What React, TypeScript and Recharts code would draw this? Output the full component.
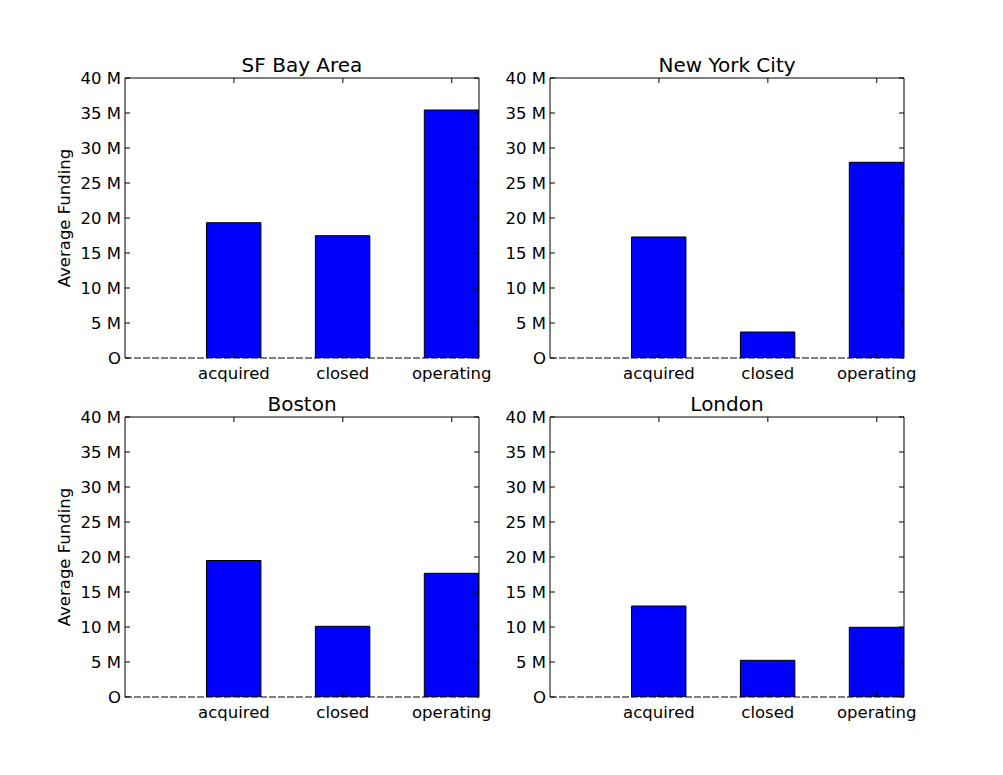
import React from 'react';
import { BarChart, Bar, XAxis, YAxis } from 'recharts';

const statusLabels = ['acquired', 'closed', 'operating'];
const statusPositions = [0, 1, 2];
const yTicks = [0, 5e6, 10e6, 15e6, 20e6, 25e6, 30e6, 35e6, 40e6];

const sfBayArea = [19.33e6, 17.47e6, 35.43e6];
const newYorkCity = [17.29e6, 3.71e6, 27.96e6];
const boston = [19.5e6, 10.1e6, 17.67e6];
const london = [13.0e6, 5.24e6, 9.96e6];

const FONT = '"DejaVu Sans", sans-serif';
const TICK_FS = 16.5;
const TITLE_FS = 20;

const PLOT_W = 354;
const PLOT_H = 280;
const Y_AXIS_W = 60;
const TOP_AXIS_H = 10;
const RIGHT_AXIS_W = 10;
const BOTTOM_AXIS_H = 40;
const X_DOMAIN: [number, number] = [-1, 2.25];
const BAR_WIDTH_UNITS = 0.5;

const panels = [
  { title: 'SF Bay Area', values: sfBayArea, L: 125, T: 78, yLabel: true },
  { title: 'New York City', values: newYorkCity, L: 550, T: 78, yLabel: false },
  { title: 'Boston', values: boston, L: 125, T: 417, yLabel: true },
  { title: 'London', values: london, L: 550, T: 417, yLabel: false },
];

const fmtY = (v: number) => (v === 0 ? 'O' : `${v / 1e6} M`);
const fmtX = (v: number) => statusLabels[statusPositions.indexOf(v)] ?? '';

function Panel({ title, values, L, T, yLabel }: { title: string; values: number[]; L: number; T: number; yLabel: boolean }) {
  const data = statusPositions.map((x, i) => ({ x, value: values[i] }));
  const barSize = (BAR_WIDTH_UNITS * PLOT_W) / (X_DOMAIN[1] - X_DOMAIN[0]);
  const tickStyle = { fill: '#000', fontSize: TICK_FS, fontFamily: FONT };
  const lineStyle = { stroke: '#000', strokeWidth: 1 };
  return (
    <>
      <div
        style={{
          position: 'absolute',
          left: L,
          top: T - 23.4,
          width: PLOT_W,
          textAlign: 'center',
          fontFamily: FONT,
          fontSize: TITLE_FS,
          lineHeight: `${TITLE_FS}px`,
          color: '#000',
          whiteSpace: 'nowrap',
        }}
      >
        {title}
      </div>
      {yLabel && (
        <div
          style={{
            position: 'absolute',
            left: 64.5 - 100,
            top: T + PLOT_H / 2 - 10,
            width: 200,
            height: 20,
            lineHeight: '20px',
            textAlign: 'center',
            fontFamily: FONT,
            fontSize: TICK_FS,
            color: '#000',
            transform: 'rotate(-90deg)',
            whiteSpace: 'nowrap',
          }}
        >
          Average Funding
        </div>
      )}
      <div style={{ position: 'absolute', left: L - Y_AXIS_W, top: T - TOP_AXIS_H }}>
        <BarChart
          width={PLOT_W + Y_AXIS_W + RIGHT_AXIS_W + 20}
          height={PLOT_H + TOP_AXIS_H + BOTTOM_AXIS_H}
          data={data}
          margin={{ top: 0, left: 0, right: 20, bottom: 0 }}
        >
          <XAxis
            xAxisId="bottom"
            dataKey="x"
            type="number"
            domain={X_DOMAIN}
            allowDataOverflow
            ticks={statusPositions}
            tickFormatter={fmtX}
            height={BOTTOM_AXIS_H}
            tickSize={-5}
            tickMargin={14}
            tick={tickStyle}
            tickLine={lineStyle}
            axisLine={{ stroke: '#000', strokeWidth: 1, strokeDasharray: '7 2' }}
            interval={0}
          />
          <XAxis
            xAxisId="top"
            orientation="top"
            dataKey="x"
            type="number"
            domain={X_DOMAIN}
            allowDataOverflow
            ticks={statusPositions}
            tickFormatter={() => ''}
            height={TOP_AXIS_H}
            tickSize={-5}
            tick={tickStyle}
            tickLine={lineStyle}
            axisLine={lineStyle}
            interval={0}
          />
          <YAxis
            yAxisId="left"
            type="number"
            domain={[0, 40e6]}
            allowDataOverflow
            ticks={yTicks}
            tickFormatter={fmtY}
            width={Y_AXIS_W}
            tickSize={-5}
            tickMargin={9}
            tick={tickStyle}
            tickLine={lineStyle}
            axisLine={lineStyle}
            interval={0}
          />
          <YAxis
            yAxisId="right"
            orientation="right"
            type="number"
            domain={[0, 40e6]}
            allowDataOverflow
            ticks={yTicks}
            tickFormatter={() => ''}
            width={RIGHT_AXIS_W}
            tickSize={-5}
            tick={tickStyle}
            tickLine={lineStyle}
            axisLine={lineStyle}
            interval={0}
          />
          <Bar
            xAxisId="bottom"
            yAxisId="left"
            dataKey="value"
            fill="#0000ff"
            stroke="#000"
            strokeWidth={1}
            barSize={barSize}
            isAnimationActive={false}
          />
        </BarChart>
      </div>
    </>
  );
}

export default function App() {
  return (
    <div style={{ position: 'absolute', left: 0, top: 0, width: 1003, height: 775, background: '#fff' }}>
      {panels.map((p) => (
        <Panel key={p.title} {...p} />
      ))}
    </div>
  );
}
